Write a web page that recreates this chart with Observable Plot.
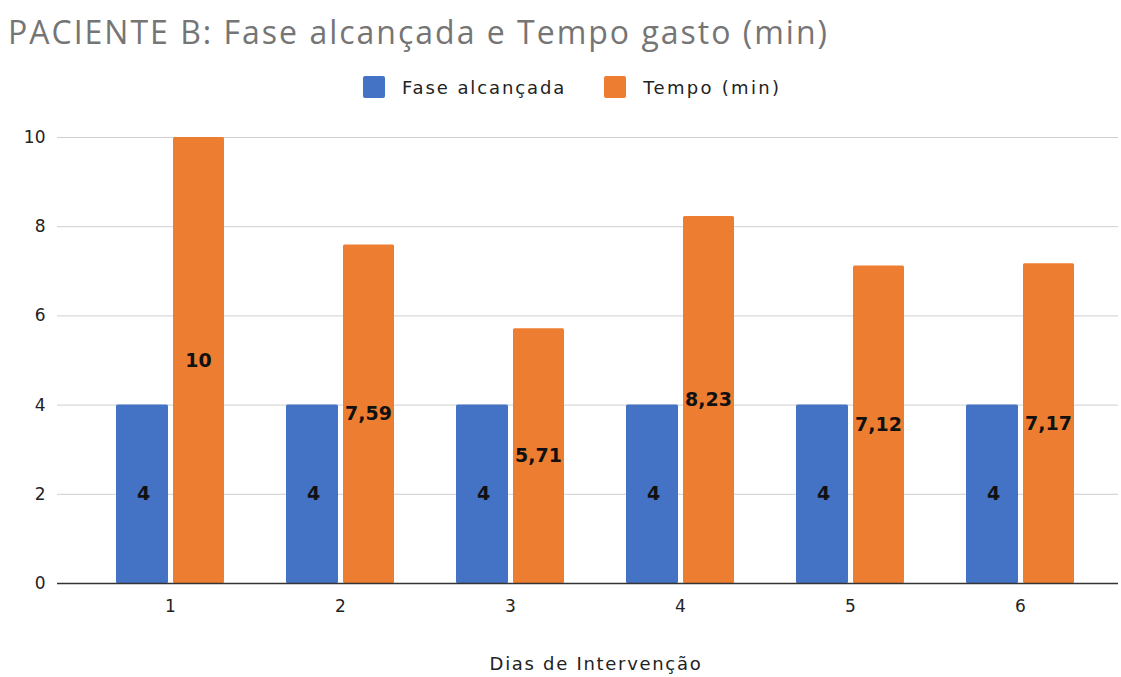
<!DOCTYPE html>
<html>
<head>
<meta charset="utf-8">
<script src="https://cdn.jsdelivr.net/npm/d3@7"></script>
<script src="https://cdn.jsdelivr.net/npm/@observablehq/plot@0.6"></script>
<style>
  html, body { margin: 0; padding: 0; background: #fff; }
  #page { position: relative; width: 1121px; height: 677px; overflow: hidden; }
  #title { position: absolute; left: 8px; top: 10px; font-family: "Open Sans", sans-serif; font-size: 32px; letter-spacing: 2px; color: #757575; white-space: nowrap; }
  #legend { position: absolute; top: 76px; left: 363px; display: flex; align-items: center; font-family: "DejaVu Sans", sans-serif; font-size: 18px; letter-spacing: 1.9px; color: #222; }
  .sw { width: 22px; height: 22px; border-radius: 2px; display: inline-block; margin-right: 17px; }
  .item { display: flex; align-items: center; margin-right: 38px; }
  .item:last-child span:last-child { letter-spacing: 2.3px; }
  #chart { position: absolute; left: 0; top: 110px; }
  #xlabel { position: absolute; top: 653px; left: 596px; transform: translateX(-50%); font-family: "DejaVu Sans", sans-serif; font-size: 18px; letter-spacing: 1.7px; color: #222; white-space: nowrap; }
</style>
</head>
<body>
<div id="page">
  <div id="title">PACIENTE B: Fase alcançada e Tempo gasto (min)</div>
  <div id="legend"></div>
  <div id="chart"></div>
  <div id="xlabel">Dias de Intervenção</div>
</div>
<script>
// Days of intervention and the two measured series
const days = ["1", "2", "3", "4", "5", "6"];
const faseAlcancada = [4, 4, 4, 4, 4, 4];
const tempoMin = [10, 7.59, 5.71, 8.23, 7.12, 7.17];
const seriesNames = ["Fase alcançada", "Tempo (min)"];
const seriesColors = ["#4472c4", "#ed7d31"];
const yTicks = [0, 2, 4, 6, 8, 10];

const fase = days.map((d, i) => ({day: d, value: faseAlcancada[i]}));
const tempo = days.map((d, i) => ({day: d, value: tempoMin[i]}));
const fmt = v => String(v).replace(".", ",");

// Legend
const legend = document.getElementById("legend");
seriesNames.forEach((name, i) => {
  const item = document.createElement("div");
  item.className = "item";
  item.innerHTML = `<span class="sw" style="background:${seriesColors[i]}"></span><span>${name}</span>`;
  legend.appendChild(item);
});

const labelFont = {fontFamily: "DejaVu Sans", fontWeight: "bold", fontSize: 19, fill: "#111"};

const chart = Plot.plot({
  width: 1121,
  height: 567,
  marginLeft: 57,
  marginRight: 3,
  marginTop: 27,
  marginBottom: 94,
  style: {fontFamily: "DejaVu Sans", fontSize: "17px", color: "#222", background: "transparent"},
  x: {domain: days, range: [85, 1105], paddingInner: 0.365, paddingOuter: 0.1825, label: null},
  y: {domain: [0, 10], ticks: yTicks, label: null},
  marks: [
    Plot.ruleY(yTicks.filter(t => t > 0), {stroke: "#cfcfcf", strokeWidth: 1}),
    Plot.barY(fase, {x: "day", y: "value", fill: seriesColors[0], insetRight: 56, rx: 1.5}),
    Plot.barY(tempo, {x: "day", y: "value", fill: seriesColors[1], insetLeft: 57, rx: 1.5}),
    Plot.ruleY([0], {stroke: "#333", strokeWidth: 1.5}),
    Plot.text(fase, {x: "day", y: d => d.value / 2, text: d => fmt(d.value), dx: -27, ...labelFont}),
    Plot.text(tempo, {x: "day", y: d => d.value / 2, text: d => fmt(d.value), dx: 28, ...labelFont}),
    Plot.axisY({ticks: yTicks, tickSize: 0, tickPadding: 12, label: null, fontSize: 17}),
    Plot.axisX({tickSize: 0, tickPadding: 16, label: null, fontSize: 17})
  ]
});
document.getElementById("chart").appendChild(chart);
</script>
</body>
</html>
